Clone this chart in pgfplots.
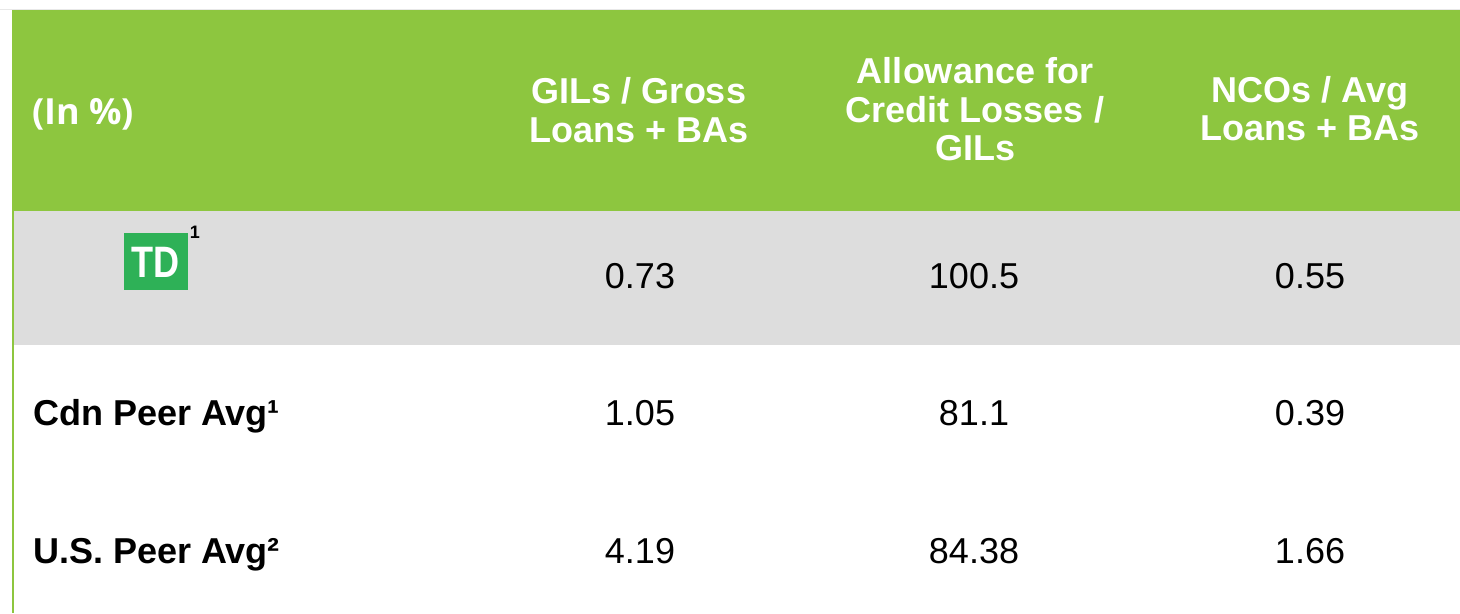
\documentclass[border=0pt]{standalone}
\usepackage{fontspec}
\setmainfont{Liberation Sans}
\newfontfamily\opensans{Open Sans}
\usepackage{pgfplots}
\pgfplotsset{compat=1.18}
\definecolor{hdrgreen}{HTML}{8DC63F}
\definecolor{rowgray}{HTML}{DDDDDD}
\definecolor{tdgreen}{HTML}{2EB157}
\definecolor{topline}{HTML}{E8E8E8}
\begin{document}
\begin{tikzpicture}
\begin{axis}[
  scale only axis, width=1460bp, height=613bp,
  xmin=0, xmax=1460, ymin=0, ymax=613, y dir=reverse,
  hide axis, clip=false,
  point meta=explicit symbolic,
  nodes near coords,
  every node near coord/.append style={anchor=base, inner sep=0pt, font=\fontsize{36bp}{40bp}\selectfont, text=black},
]
% background and table shapes
\fill[white] (axis cs:0,0) rectangle (axis cs:1460,613);
\fill[topline] (axis cs:0,8.8) rectangle (axis cs:1460,9.8);
\fill[hdrgreen] (axis cs:12,10) rectangle (axis cs:1460,211);
\fill[rowgray] (axis cs:14,211) rectangle (axis cs:1460,345);
\fill[hdrgreen] (axis cs:12,211) rectangle (axis cs:14,613);
% header texts
\node[anchor=base west, inner sep=0pt, text=white, font=\opensans\bfseries\fontsize{36bp}{40bp}\selectfont] at (axis cs:32,124) {(In \%)};
\begin{scope}[every node/.style={anchor=base, inner sep=0pt, text=white, font=\bfseries\fontsize{36bp}{40bp}\selectfont}]
\node at (axis cs:639,103) {GILs / Gross};
\node at (axis cs:639,142) {Loans + BAs};
\node at (axis cs:975,83) {Allowance for};
\node at (axis cs:975,122) {Credit Losses /};
\node at (axis cs:975,160) {GILs};
\node at (axis cs:1310,102) {NCOs / Avg};
\node at (axis cs:1310,140) {Loans + BAs};
\end{scope}
% TD logo
\fill[tdgreen] (axis cs:124,233) rectangle (axis cs:188,290);
\node[anchor=base, inner sep=0pt, text=white, xscale=0.82, font=\bfseries\fontsize{44bp}{44bp}\selectfont] at (axis cs:156,277) {TD};
\node[anchor=base, inner sep=0pt, text=black, font=\bfseries\fontsize{18bp}{18bp}\selectfont] at (axis cs:195,238) {1};
% row labels
\node[anchor=base west, inner sep=0pt, font=\bfseries\fontsize{36bp}{40bp}\selectfont] at (axis cs:33,425) {Cdn Peer Avg¹};
\node[anchor=base west, inner sep=0pt, font=\bfseries\fontsize{36bp}{40bp}\selectfont] at (axis cs:33,563) {U.S. Peer Avg²};
% values
\addplot[only marks, mark=none] table[meta=label] {
x y label
640 288 0.73
974 288 100.5
1310 288 0.55
640 425 1.05
974 425 81.1
1310 425 0.39
640 563 4.19
974 563 84.38
1310 563 1.66
};
\end{axis}
\end{tikzpicture}
\end{document}
